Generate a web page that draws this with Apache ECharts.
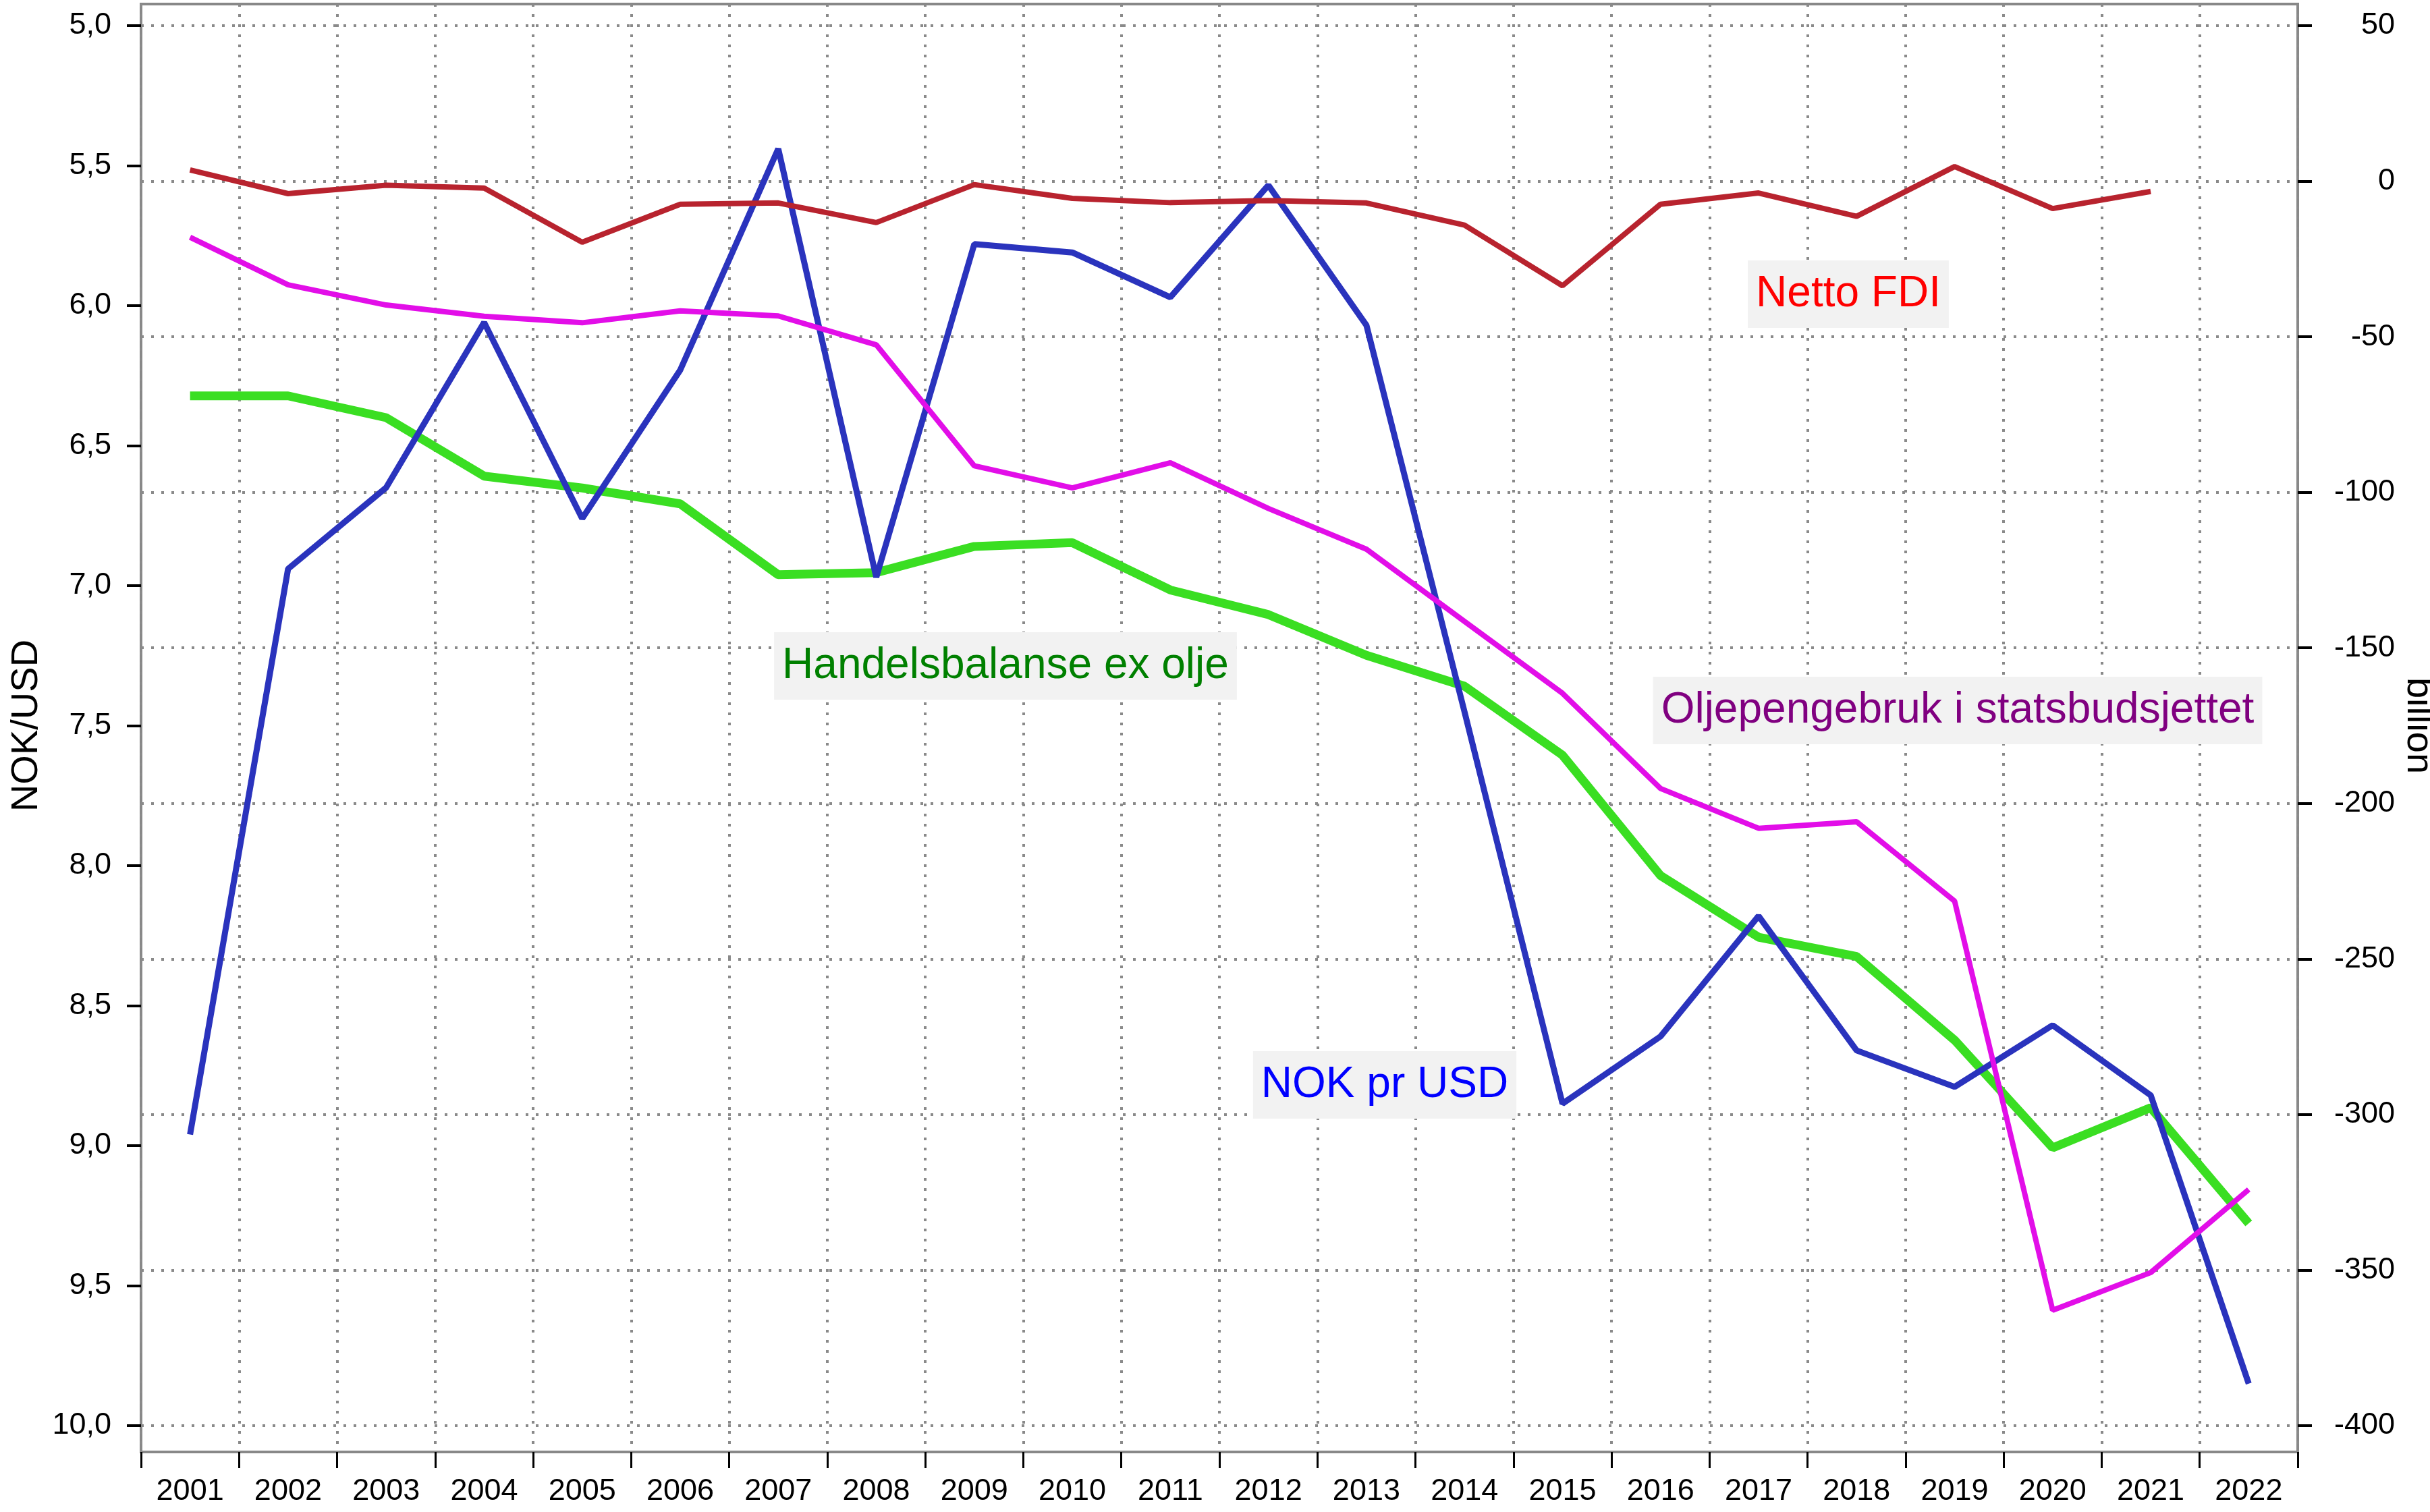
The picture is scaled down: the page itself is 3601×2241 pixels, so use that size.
<!DOCTYPE html>
<html>
<head>
<meta charset="utf-8">
<script src="https://cdn.jsdelivr.net/npm/echarts@6/dist/echarts.min.js"></script>
<style>
  html, body { margin: 0; padding: 0; background: #fff; }
  #main { width: 3601px; height: 2241px; }
</style>
</head>
<body>
<div id="main"></div>
<script>
var years = ['2001','2002','2003','2004','2005','2006','2007','2008','2009','2010','2011',
             '2012','2013','2014','2015','2016','2017','2018','2019','2020','2021','2022'];

// NOK pr USD (left axis, inverted)
var nokUsd = [8.96, 6.94, 6.65, 6.06, 6.76, 6.23, 5.44, 6.97, 5.78, 5.81, 5.97,
              5.57, 6.07, 7.45, 8.85, 8.61, 8.18, 8.66, 8.79, 8.57, 8.82, 9.85];

// billion (right axis)
var nettoFdi = [3.6, -4.0, -1.3, -2.2, -19.6, -7.4, -7.0, -13.3, -1.1, -5.5, -6.9,
                -6.2, -7.0, -14.1, -33.6, -7.4, -3.8, -11.3, 4.7, -8.8, -3.3, null];
var oljepenger = [-18.0, -33.3, -39.8, -43.4, -45.5, -41.7, -43.3, -52.6, -91.5, -98.6, -90.5,
                  -105.2, -118.3, -141.5, -164.6, -195.2, -208.0, -205.9, -231.4, -362.9, -350.8, -324.1];
var handel = [-69.0, -69.0, -76.0, -94.8, -98.6, -103.7, -126.5, -125.8, -117.4, -116.2, -131.4,
              -139.3, -152.4, -162.3, -184.5, -223.2, -243.0, -249.2, -276.1, -310.7, -297.8, -335.0];

var leftTicks = { min: 5, max: 10, step: 0.5 };
var rightTicks = { min: -400, max: 50, step: 50 };

var chart = echarts.init(document.getElementById('main'));

var dotted = { color: '#8a8a8a', width: 4, type: [4, 11] };
var tickStyle = { color: '#000', width: 4 };
var labelFont = { fontFamily: 'Liberation Sans, Arial, sans-serif', fontSize: 45, color: '#000' };
var nameFont = { fontFamily: 'Liberation Sans, Arial, sans-serif', fontSize: 56, color: '#000' };

function note(text, x, y, color) {
  return {
    type: 'text',
    x: x, y: y,
    z: 50,
    style: {
      text: text,
      fill: color,
      font: '64px "Liberation Sans", Arial, sans-serif',
      align: 'center',
      verticalAlign: 'middle',
      backgroundColor: '#f2f2f2',
      padding: [18, 12, 18, 12]
    }
  };
}

var option = {
  backgroundColor: '#fff',
  animation: false,
  grid: [
    { left: 209, right: 196, top: 38, height: 2075, show: false, outerBoundsMode: 'none', containLabel: false },
    { left: 209, right: 196, top: 6, height: 2146, show: true, outerBoundsMode: 'none', containLabel: false,
      borderColor: '#888', borderWidth: 4, backgroundColor: 'transparent' }
  ],
  xAxis: [
    { type: 'category', data: years, gridIndex: 0, boundaryGap: true, show: false },
    {
      type: 'category', data: years, gridIndex: 1, boundaryGap: true, position: 'bottom',
      axisLine: { show: false },
      axisTick: { show: true, inside: false, length: 24, lineStyle: { color: '#000', width: 3 } },
      axisLabel: Object.assign({ margin: 36 }, labelFont),
      splitLine: { show: true, lineStyle: dotted }
    }
  ],
  yAxis: [
    {
      type: 'value', gridIndex: 0, position: 'left', inverse: true,
      min: leftTicks.min, max: leftTicks.max, interval: leftTicks.step,
      name: 'NOK/USD', nameLocation: 'middle', nameRotate: 90, nameGap: 141,
      nameMoveOverlap: false,
      nameTextStyle: nameFont,
      axisLine: { show: false },
      axisTick: { show: true, length: 21, lineStyle: tickStyle },
      axisLabel: Object.assign({
        margin: 44,
        formatter: function (v) { return v.toFixed(1).replace('.', ','); }
      }, labelFont),
      splitLine: { show: false }
    },
    {
      type: 'value', gridIndex: 0, position: 'right',
      min: rightTicks.min, max: rightTicks.max, interval: rightTicks.step,
      name: 'billion', nameLocation: 'middle', nameRotate: -90, nameGap: 150,
      nameMoveOverlap: false,
      nameTextStyle: nameFont,
      axisLine: { show: false },
      axisTick: { show: true, length: 21, lineStyle: tickStyle },
      axisLabel: Object.assign({ margin: 144, align: 'right' }, labelFont),
      splitLine: { show: true, lineStyle: dotted }
    },
    { type: 'value', gridIndex: 1, show: false, min: 0, max: 1 }
  ],
  series: [
    {
      name: 'Handelsbalanse ex olje', type: 'line', xAxisIndex: 0, yAxisIndex: 1,
      data: handel, showSymbol: false, symbol: 'none',
      lineStyle: { color: '#3ade22', width: 13 }
    },
    {
      name: 'NOK pr USD', type: 'line', xAxisIndex: 0, yAxisIndex: 0,
      data: nokUsd, showSymbol: false, symbol: 'none',
      lineStyle: { color: '#2a33bd', width: 9 }
    },
    {
      name: 'Oljepengebruk i statsbudsjettet', type: 'line', xAxisIndex: 0, yAxisIndex: 1,
      data: oljepenger, showSymbol: false, symbol: 'none',
      lineStyle: { color: '#e20ee8', width: 8 }
    },
    {
      name: 'Netto FDI', type: 'line', xAxisIndex: 0, yAxisIndex: 1,
      data: nettoFdi, showSymbol: false, symbol: 'none',
      lineStyle: { color: '#b8232e', width: 8 }
    }
  ],
  graphic: [
    note('Netto FDI', 2739, 436, '#ff0000'),
    note('Handelsbalanse ex olje', 1490, 987, '#008000'),
    note('Oljepengebruk i statsbudsjettet', 2901, 1053, '#800080'),
    note('NOK pr USD', 2052, 1608, '#0000ff')
  ]
};

chart.setOption(option);
</script>
</body>
</html>
